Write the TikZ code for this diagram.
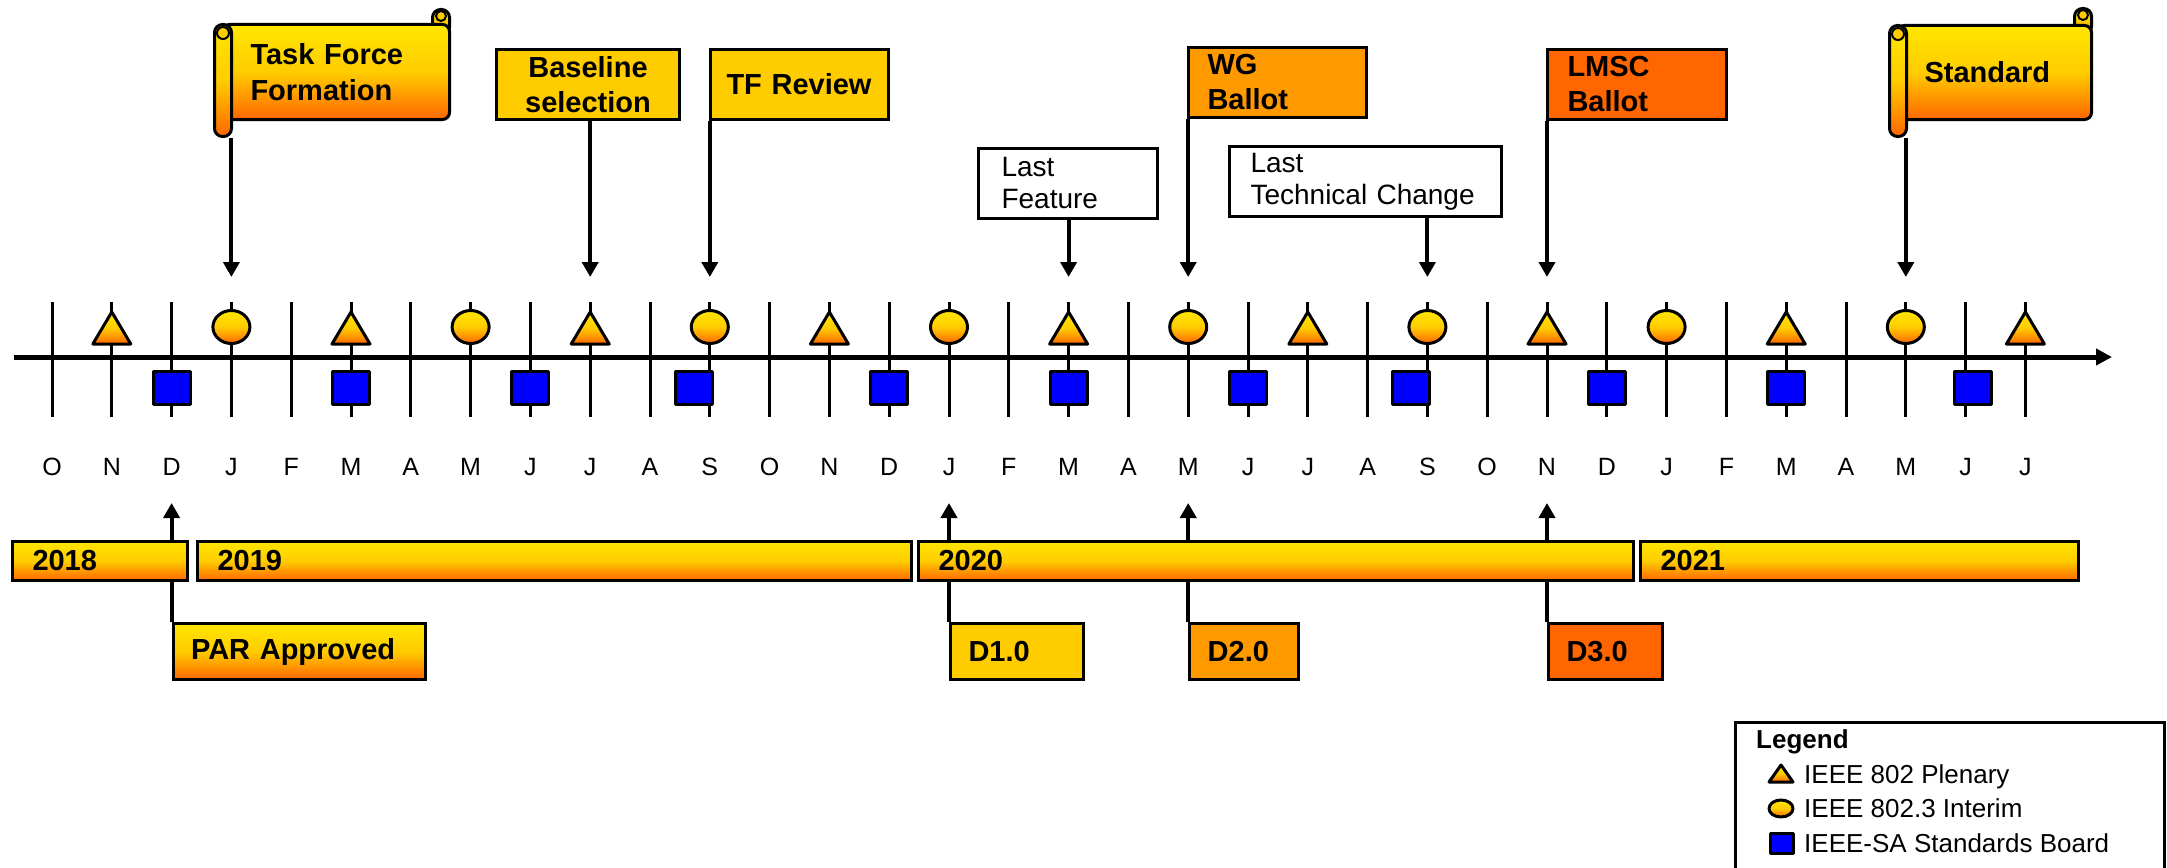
\documentclass[tikz,border=0pt]{standalone}
\usepackage{fontspec}
\setmainfont{Liberation Sans}
\usepackage{xcolor}
\usetikzlibrary{arrows.meta}
\usetikzlibrary{calc}

\begin{document}
\begin{tikzpicture}[x=1pt, y=-1pt,
        tacca/.style={line width=3pt},
        asse/.style={line width=5pt, -{Triangle[width=16pt,length=16pt]}},
        asta/.style={line width=4pt, -{Triangle[width=16pt,length=15pt]}},
        sfumato/.style={top color=giallo, bottom color=arancio, middle color=oro},
        simbolo/.style={draw, line width=3pt, line join=round},
        bandiera/.style={draw, line width=3pt, anchor=north west, minimum height=70pt, inner ysep=0pt, font=\fontsize{29}{35}\selectfont\bfseries},
        nota/.style={draw, line width=3pt, fill=white, anchor=north west, minimum height=70pt, inner ysep=0pt, align=left, font=\fontsize{28}{32}\selectfont},
        pergamena/.style={draw, line width=3pt, sfumato, anchor=north west, rounded corners=7pt, align=left, inner ysep=0pt, font=\fontsize{29}{36}\selectfont\bfseries},
        rotolo/.style={draw, line width=3pt, sfumato, rounded corners=8pt, inner sep=0pt, anchor=north west},
        anno/.style={draw, line width=3pt, sfumato, anchor=north west, minimum height=39pt, inner xsep=20pt, inner ysep=0pt, align=left, font=\fontsize{29}{35}\selectfont\bfseries},
        bozza/.style={draw, line width=3pt, anchor=north west, minimum height=56pt, inner xsep=18pt, inner ysep=0pt, align=left, font=\fontsize{29}{35}\selectfont\bfseries},
        mese/.style={font=\fontsize{25}{30}\selectfont},
        voce/.style={anchor=base west, inner sep=0pt, font=\fontsize{26}{30}\selectfont}]
        % Definizione dei colori
        \definecolor{giallo}{RGB}{255,230,0}
        \definecolor{oro}{RGB}{255,204,0}
        \definecolor{ambra}{RGB}{255,153,0}
        \definecolor{arancio}{RGB}{255,102,0}
        \definecolor{blu}{RGB}{0,0,255}
        \useasboundingbox (0,0) rectangle (2167,867);

        % Mesi sull'asse
        \foreach \i in {0,...,33}
            \coordinate (m\i) at ({52+59.8*\i},357);
        \foreach \i in {0,...,33}
            \draw[tacca] ($(m\i)+(0,-55)$) -- ($(m\i)+(0,60)$);
        \coordinate (inizio) at (14,357);
        \coordinate (fine) at (2112,357);
        \draw[asse] (inizio) -- (fine);

        % Plenary, interim e standards board
        \foreach \i in {1,5,...,33}
            \path[simbolo, sfumato] ($(m\i)+(0,-45)$) -- ++(19,32) -- ++(-38,0) -- cycle;
        \foreach \i in {3,7,...,31}
            \path[simbolo, sfumato] ($(m\i)+(0,-30)$) ellipse [x radius=18.5pt, y radius=16.5pt];
        \foreach \i/\d in {2/0,5/0,8/0,11/-16,14/0,17/0,20/0,23/-16,26/0,29/0,32/7}
            \path[simbolo, fill=blu] ($(m\i)+(\d-18.5,14)$) rectangle ++(37,33);

        % Pergamena: Task Force Formation
        \node (tffric) at (431,8) [rotolo, minimum width=17pt, minimum height=26pt] {};
        \node (tff) at (221,23) [pergamena, text width=171pt, inner xsep=28pt, minimum height=95pt] {Task Force\\Formation};
        \node (tffrot) at (213,23) [rotolo, minimum width=17pt, minimum height=112pt] {};
        \draw[line width=2pt, fill=oro] ($(tffrot.north)+(0,10)$) circle (6pt);
        \draw[line width=2pt, fill=oro] ($(tffric.north)+(0,8)$) circle (5pt);
        \draw[asta] (tffrot.south -| m3) -- ($(m3)+(0,-80)$);

        % Bandiere
        \node (bsl) at (495,48) [bandiera, fill=oro, minimum width=183pt, align=center] {Baseline\\selection};
        \node (tfr) at (709,48) [bandiera, fill=oro, text width=146pt, inner xsep=16pt, align=left] {TF Review};
        \node (wgb) at (1187,46) [bandiera, fill=ambra, text width=140pt, inner xsep=19pt, align=left] {WG\\Ballot};
        \node (lmsc) at (1546,48) [bandiera, fill=arancio, text width=139pt, inner xsep=20pt, align=left] {LMSC\\Ballot};
        \draw[asta] (bsl.south -| m9) -- ($(m9)+(0,-80)$);
        \draw[asta] (tfr.south -| m11) -- ($(m11)+(0,-80)$);
        \draw[asta] (wgb.south -| m19) -- ($(m19)+(0,-80)$);
        \draw[asta] (lmsc.south -| m25) -- ($(m25)+(0,-80)$);

        % Note
        \node (lf) at (977,147) [nota, text width=133pt, inner xsep=23pt] {Last\\Feature};
        \node (ltc) at (1228,145) [nota, text width=230pt, inner xsep=21pt] {Last\\Technical Change};
        \draw[asta] (lf.south -| m17) -- ($(m17)+(0,-80)$);
        \draw[asta] (ltc.south -| m23) -- ($(m23)+(0,-80)$);

        % Pergamena: Standard
        \node (stdric) at (2073,7) [rotolo, minimum width=17pt, minimum height=26pt] {};
        \node (std) at (1896,24) [pergamena, text width=140pt, inner xsep=27pt, minimum height=94pt] {Standard};
        \node (stdrot) at (1888,24) [rotolo, minimum width=17pt, minimum height=111pt] {};
        \draw[line width=2pt, fill=oro] ($(stdrot.north)+(0,10)$) circle (6pt);
        \draw[line width=2pt, fill=oro] ($(stdric.north)+(0,8)$) circle (5pt);
        \draw[asta] (stdrot.south -| m31) -- ($(m31)+(0,-80)$);

        % Etichette dei mesi
        \foreach \m [count=\i from 0] in {O,N,D,J,F,M,A,M,J,J,A,S,O,N,D,J,F,M,A,M,J,J,A,S,O,N,D,J,F,M,A,M,J,J}
            \node (l\i) at ($(m\i)+(0,110)$) [mese] {\m};

        % Bozze
        \node (par) at ($(m2)+(0,265)$) [bozza, sfumato, text width=216pt] {PAR Approved};
        \node (d1) at ($(m15)+(0,265)$) [bozza, fill=oro, text width=97pt] {D1.0};
        \node (d2) at ($(m19)+(0,265)$) [bozza, fill=ambra, text width=73pt] {D2.0};
        \node (d3) at ($(m25)+(0,265)$) [bozza, fill=arancio, text width=78pt] {D3.0};
        \draw[asta] (par.north -| m2) -- ($(m2)+(0,146)$);
        \draw[asta] (d1.north -| m15) -- ($(m15)+(0,146)$);
        \draw[asta] (d2.north -| m19) -- ($(m19)+(0,146)$);
        \draw[asta] (d3.north -| m25) -- ($(m25)+(0,146)$);

        % Anni
        \node (a2018) at (11,540) [anno, text width=135pt] {2018};
        \node (a2019) at (196,540) [anno, text width=674pt] {2019};
        \node (a2020) at (917,540) [anno, text width=675pt] {2020};
        \node (a2021) at (1639,540) [anno, text width=398pt] {2021};

        % Legenda
        \node (legenda) at (1734,721) [draw, line width=3pt, anchor=north west, minimum width=429pt, minimum height=170pt] {};
        \node (titolo) at (1756,748) [voce, font=\fontsize{26}{30}\selectfont\bfseries] {Legend};
        \path[simbolo, sfumato] (1781,765) -- (1793,782) -- (1769,782) -- cycle;
        \node (plen) at (1804,783) [voce] {IEEE 802 Plenary};
        \path[simbolo, sfumato] (1781,808.5) ellipse [x radius=12pt, y radius=8.5pt];
        \node (inter) at (1804,817) [voce] {IEEE 802.3 Interim};
        \path[simbolo, fill=blu] (1770,833) rectangle (1793,853);
        \node (board) at (1804,852) [voce] {IEEE-SA Standards Board};
    \end{tikzpicture}
\end{document}
